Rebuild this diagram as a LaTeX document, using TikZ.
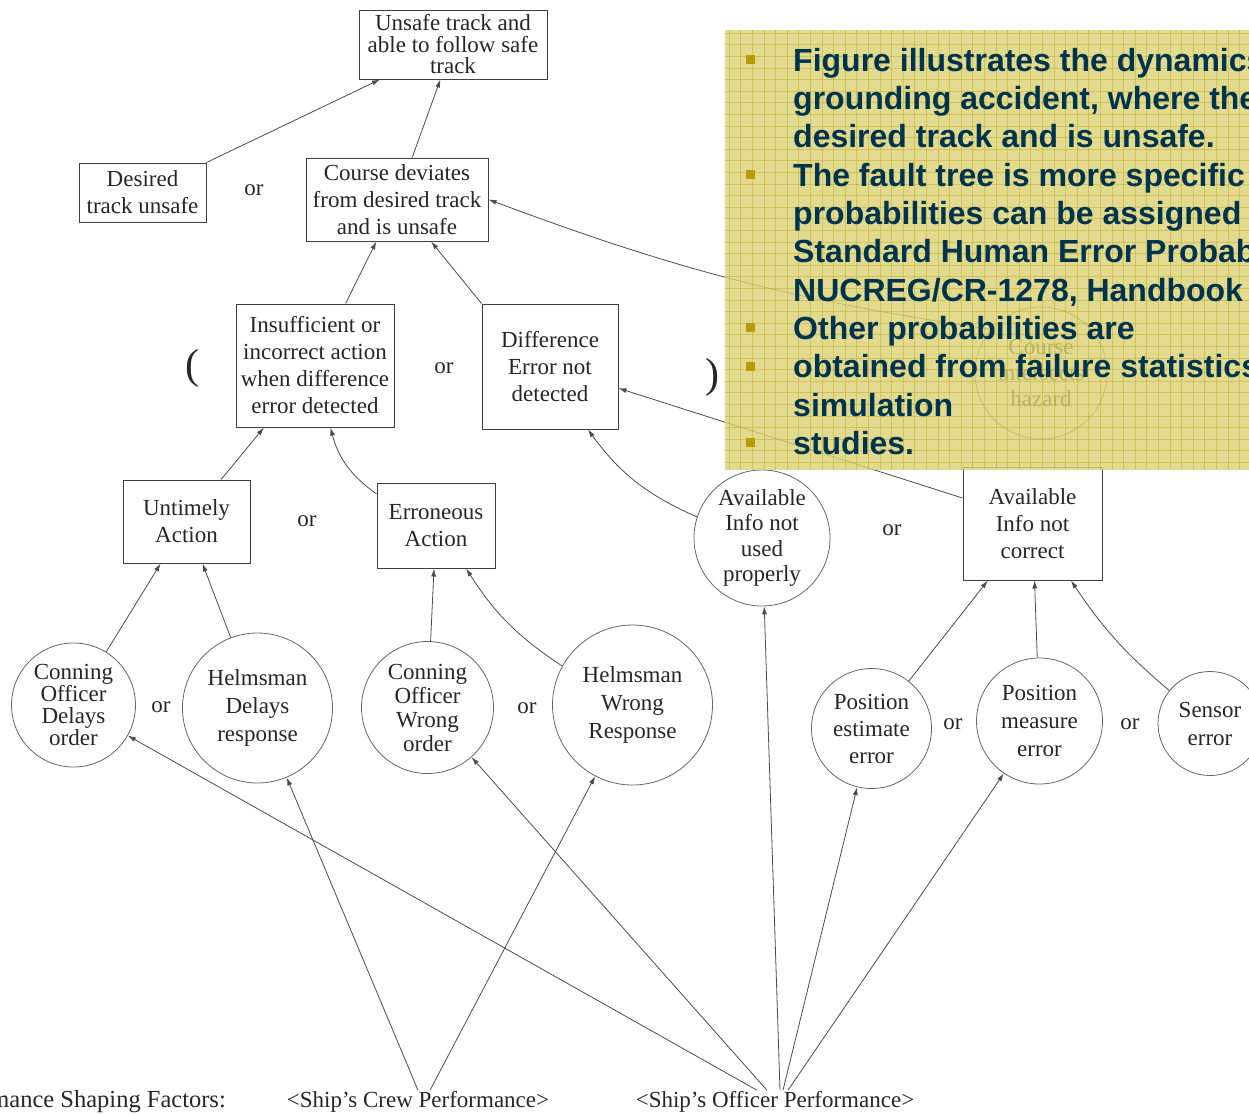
\documentclass[tikz,border=0pt]{standalone}
\usepackage{fontspec}
\setmainfont{Liberation Serif}
\newfontfamily\notefont{Liberation Sans}
\usepackage{xcolor}
\usepackage{tikz}
\usetikzlibrary{arrows.meta}
\definecolor{notefill}{RGB}{220,210,118}
\definecolor{notegrid}{RGB}{190,165,30}
\definecolor{notetext}{RGB}{0,52,78}
\definecolor{notebullet}{RGB}{185,155,10}

\begin{document}
\begin{tikzpicture}[x=1pt,y=-1pt,>={Latex[length=8pt,width=5pt]},
  evbox/.style={draw=black!75,line width=1pt,align=center,inner sep=0pt,text=black!85,font=\fontsize{23}{27}\selectfont},
  evcirc/.style={circle,draw=black!60,line width=0.8pt,align=center,inner sep=0pt,text=black!85,font=\fontsize{23}{27}\selectfont},
  gate/.style={text=black!85,inner sep=1pt,font=\fontsize{23}{27}\selectfont},
  link/.style={->,draw=black!70,line width=0.8pt},
  psf/.style={text=black!85,inner sep=1pt,font=\fontsize{23}{27}\selectfont}]
  \useasboundingbox (0,0) rectangle (1249,1114);
  \clip (0,0) rectangle (1249,1114);

  % fault tree events
  \node[evbox,minimum width=188,minimum height=69,font=\fontsize{23}{21.5}\selectfont] (top) at (453,44.5) {Unsafe track and\\able to follow safe\\track};
  \node[evbox,minimum width=127,minimum height=59] (desired) at (142.5,192.5) {Desired\\track unsafe};
  \node[evbox,minimum width=182,minimum height=83] (course) at (397,199.5) {Course deviates\\from desired track\\and is unsafe};
  \node[evbox,minimum width=158,minimum height=123] (insuff) at (315,365.5) {Insufficient or\\incorrect action\\when difference\\error detected};
  \node[evbox,minimum width=136,minimum height=125] (diff) at (550,366.5) {Difference\\Error not\\detected};
  \node[evcirc,minimum size=132,font=\fontsize{23}{26}\selectfont] (hazard) at (1041,373) {Course\\intersects\\hazard};
  \node[evbox,minimum width=127,minimum height=83] (untimely) at (186.5,521.5) {Untimely\\Action};
  \node[evbox,minimum width=118,minimum height=85] (erron) at (436,525.5) {Erroneous\\Action};
  \node[evcirc,minimum size=136,font=\fontsize{23}{25.5}\selectfont] (availu) at (762,538) {Available\\Info not\\used\\properly};
  \node[evbox,minimum width=139,minimum height=113] (availc) at (1032.5,523.5) {Available\\Info not\\correct};
  \node[evcirc,minimum size=124,font=\fontsize{23}{22}\selectfont] (condel) at (73.5,705) {Conning\\Officer\\Delays\\order};
  \node[evcirc,minimum size=150,font=\fontsize{23}{28}\selectfont] (helmdel) at (257.5,708) {Helmsman\\Delays\\response};
  \node[evcirc,minimum size=132,font=\fontsize{23}{24}\selectfont] (conwr) at (427.5,707.5) {Conning\\Officer\\Wrong\\order};
  \node[evcirc,minimum size=160,font=\fontsize{23}{28}\selectfont] (helmwr) at (632.5,705) {Helmsman\\Wrong\\Response};
  \node[evcirc,minimum size=120] (posest) at (871.5,728.5) {Position\\estimate\\error};
  \node[evcirc,minimum size=126,font=\fontsize{23}{28}\selectfont] (posmeas) at (1039.5,721) {Position\\measure\\error};
  \node[evcirc,minimum size=104,font=\fontsize{23}{28}\selectfont] (sensor) at (1210,723.5) {Sensor\\error};

  % gates
  \node[gate] (or1) at (254,190) {or};
  \node[gate] (or2) at (444,368) {or};
  \node[gate] (or3) at (307,521) {or};
  \node[gate] (or4) at (892,530) {or};
  \node[gate] (or5) at (161,707) {or};
  \node[gate] (or6) at (527,708) {or};
  \node[gate] (or7) at (953,724) {or};
  \node[gate] (or8) at (1130,724) {or};
  \node[gate,font=\fontsize{42}{42}\selectfont] (lpar) at (192,368) {(};
  \node[gate,font=\fontsize{42}{42}\selectfont] (rpar) at (712,377) {)};

  % performance shaping factors
  \node[psf,anchor=east,font=\fontsize{24.5}{27}\selectfont] (psflabel) at (227,1101) {Performance Shaping Factors:};
  \node[psf] (crew) at (418,1102) {<Ship's Crew Performance>};
  \node[psf] (officer) at (775,1102) {<Ship's Officer Performance>};

  % connectors
  \draw[link] (desired.north east) -- (top);
  \draw[link] (course) -- (top);
  \draw[link] (insuff) -- (course);
  \draw[link] (diff.north west) -- (course);
  \draw[link] (hazard.139) to[bend left=6] (course.east);
  \draw[link] (untimely) -- (insuff);
  \draw[link] (erron.152) to[bend left=20] (insuff.-76);
  \draw[link] (availu.162) to[bend left=15] (diff.-59);
  \draw[link] (availc.160) -- (diff);
  \draw[link] (condel) -- (untimely);
  \draw[link] (helmdel) -- (untimely);
  \draw[link] (conwr) -- (erron);
  \draw[link] (helmwr.151) to[bend left=12] (erron.-55);
  \draw[link] (posest) -- (availc);
  \draw[link] (posmeas) -- (availc);
  \draw[link] (sensor.141) to[bend left=8] (availc.-56);
  \draw[link] (crew.north) -- (helmdel);
  \draw[link] ([xshift=12pt]crew.north) -- (helmwr);
  \draw[link] ([xshift=-18pt]officer.north) -- (condel);
  \draw[link] ([xshift=-8pt]officer.north) -- (conwr);
  \draw[link] ([xshift=5pt]officer.north) -- (availu);
  \draw[link] ([xshift=8pt]officer.north) -- (posest);
  \draw[link] ([xshift=13pt]officer.north) -- (posmeas);

  % slide note
  \fill[notefill,opacity=0.82] (725,30) rectangle (1260,470);
  \foreach \gx in {0,...,46}
    \draw[notegrid,line width=0.6pt,opacity=0.45] (729+11.6*\gx,30) -- (729+11.6*\gx,470);
  \foreach \gy in {0,...,37}
    \draw[notegrid,line width=0.6pt,opacity=0.45] (725,33+11.6*\gy) -- (1260,33+11.6*\gy);
  \foreach \by in {59,174,327.5,366,442.5}
    \fill[notebullet] (746,\by-4.5) rectangle (755,\by+4.5);
  \node[anchor=north west,inner sep=0pt,align=left,text=notetext,font=\notefont\bfseries\fontsize{32}{38.3}\selectfont] (note) at (793,48)
    {Figure illustrates the dynamics\\grounding accident, where the\\desired track and is unsafe.\\The fault tree is more specific\\probabilities can be assigned\\Standard Human Error Probabilities\\NUCREG/CR-1278, Handbook\\Other probabilities are\\obtained from failure statistics\\simulation\\studies.};
\end{tikzpicture}
\end{document}
